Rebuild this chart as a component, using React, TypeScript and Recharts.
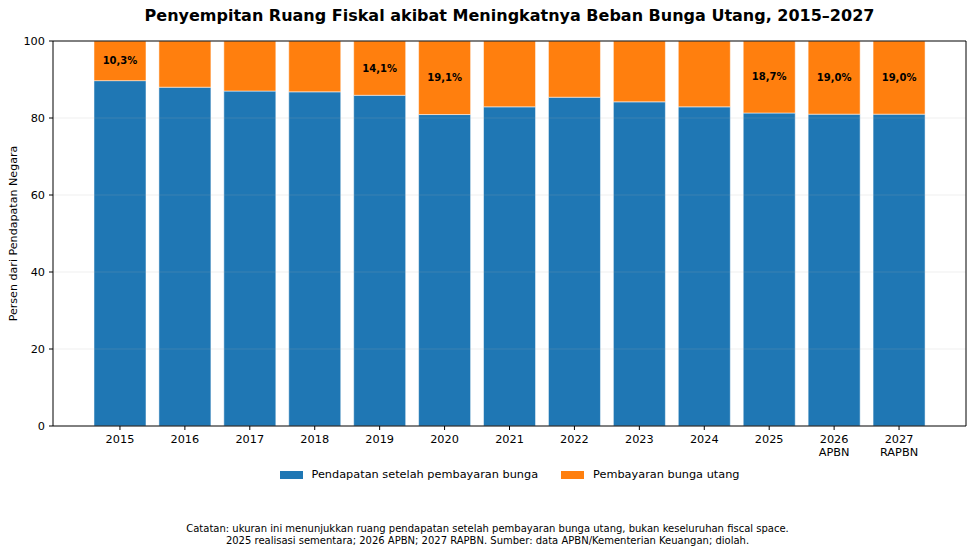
import React from 'react';
import { BarChart, Bar, XAxis, YAxis, ReferenceLine, LabelList, Legend } from 'recharts';

const years = ['2015', '2016', '2017', '2018', '2019', '2020', '2021', '2022', '2023', '2024', '2025', '2026\nAPBN', '2027\nRAPBN'];
const revenueAfterInterest = [89.7, 88.0, 87.0, 86.8, 85.9, 80.9, 82.9, 85.4, 84.2, 82.9, 81.3, 81.0, 81.0];
const interestPayments = [10.3, 12.0, 13.0, 13.2, 14.1, 19.1, 17.1, 14.6, 15.8, 17.1, 18.7, 19.0, 19.0];
const labelledYears = ['2015', '2019', '2020', '2025', '2026\nAPBN', '2027\nRAPBN'];
const yTicks = [0, 20, 40, 60, 80, 100];
const gridValues = [20, 40, 60, 80];
const seriesOrder = ['revenue', 'interest'];

const data = years.map((y, i) => ({
  year: y,
  revenue: revenueAfterInterest[i],
  interest: interestPayments[i],
}));

const FONT = '"DejaVu Sans", sans-serif';
const TICK_FS = 11.3;

const XTick = (props: any) => {
  const { x, y, payload } = props;
  const lines = String(payload.value).split('\n');
  return (
    <text x={x} y={y} textAnchor="middle" fontFamily={FONT} fontSize={TICK_FS} fill="#000">
      {lines.map((l, i) => (
        <tspan key={i} x={x} dy={i === 0 ? '0.71em' : 12.8}>{l}</tspan>
      ))}
    </text>
  );
};

const BarLabel = (props: any) => {
  const { x, y, width, height, index, value } = props;
  if (!labelledYears.includes(years[index])) return null;
  const txt = Number(value).toFixed(1).replace('.', ',') + '%';
  return (
    <text x={x + width / 2} y={y + height / 2} textAnchor="middle" dominantBaseline="central"
      fontFamily={FONT} fontSize={10} fontWeight="bold" fill="#000">{txt}</text>
  );
};

const LegendContent = (props: any) => {
  const payload = [...(props.payload || [])].sort(
    (a: any, b: any) => seriesOrder.indexOf(a.dataKey) - seriesOrder.indexOf(b.dataKey)
  );
  return (
    <div style={{ display: 'flex', justifyContent: 'center', alignItems: 'center', fontFamily: FONT, fontSize: TICK_FS, color: '#000' }}>
      {payload.map((p: any, i: number) => (
        <div key={i} style={{ display: 'flex', alignItems: 'center', marginLeft: i === 0 ? 0 : 23 }}>
          <div style={{ width: 23, height: 8, background: p.color, marginRight: 9 }} />
          <span>{p.value}</span>
        </div>
      ))}
    </div>
  );
};

const YLabel = (props: any) => {
  const vb = props.viewBox || { x: 0, y: 41, width: 53, height: 385 };
  const cx = 13;
  const cy = vb.y + vb.height / 2;
  return (
    <text x={cx} y={cy} transform={`rotate(-90 ${cx} ${cy})`} textAnchor="middle" dominantBaseline="central"
      fontFamily={FONT} fontSize={11.1} fill="#000">Persen dari Pendapatan Negara</text>
  );
};

export default function App() {
  return (
    <div style={{ position: 'absolute', left: 0, top: 0, width: 975, height: 554, background: '#fff' }}>
      <div style={{ position: 'absolute', left: 53, top: 6, width: 913, textAlign: 'center', fontFamily: FONT, fontSize: 16, fontWeight: 'bold', lineHeight: '20px', color: '#000' }}>
        Penyempitan Ruang Fiskal akibat Meningkatnya Beban Bunga Utang, 2015–2027
      </div>
      <BarChart width={975} height={554} data={data} margin={{ top: 40, right: 8, bottom: 88, left: 0 }} barCategoryGap="10%">
        <XAxis dataKey="year" interval={0} padding={{ left: 34.5, right: 34.5 }} height={40}
          tick={<XTick />} tickSize={4} tickMargin={5} axisLine={{ stroke: '#000' }} tickLine={{ stroke: '#000' }} />
        <XAxis xAxisId="top" dataKey="year" orientation="top" height={1} tick={false} tickLine={false} axisLine={{ stroke: '#000' }} />
        <YAxis domain={[0, 100]} ticks={yTicks} width={53} tickSize={4} tickMargin={4}
          tick={{ fontFamily: FONT, fontSize: TICK_FS, fill: '#000' }} axisLine={{ stroke: '#000' }} tickLine={{ stroke: '#000' }}
          label={<YLabel />} />
        <YAxis yAxisId="right" orientation="right" domain={[0, 100]} width={1} tick={false} tickLine={false} axisLine={{ stroke: '#000' }} />
        <Bar dataKey="revenue" stackId="a" name="Pendapatan setelah pembayaran bunga" fill="#1f77b4" stroke="#ffffff" strokeWidth={0.5} isAnimationActive={false} />
        <Bar dataKey="interest" stackId="a" name="Pembayaran bunga utang" fill="#ff7f0e" stroke="#ffffff" strokeWidth={0.5} isAnimationActive={false}>
          <LabelList dataKey="interest" content={<BarLabel />} />
        </Bar>
        {gridValues.map((v) => (
          <ReferenceLine key={v} y={v} stroke="#b0b0b0" strokeOpacity={0.2} strokeWidth={1} />
        ))}
        <Legend layout="horizontal" verticalAlign="middle" content={<LegendContent />}
          wrapperStyle={{ position: 'absolute', top: 468, left: 53, width: 913, height: 16 }} />
      </BarChart>
      <div style={{ position: 'absolute', left: 0, top: 523, width: 975, textAlign: 'center', fontFamily: FONT, fontSize: 10, lineHeight: '12px', color: '#000' }}>
        Catatan: ukuran ini menunjukkan ruang pendapatan setelah pembayaran bunga utang, bukan keseluruhan fiscal space.<br />
        2025 realisasi sementara; 2026 APBN; 2027 RAPBN. Sumber: data APBN/Kementerian Keuangan; diolah.
      </div>
    </div>
  );
}
